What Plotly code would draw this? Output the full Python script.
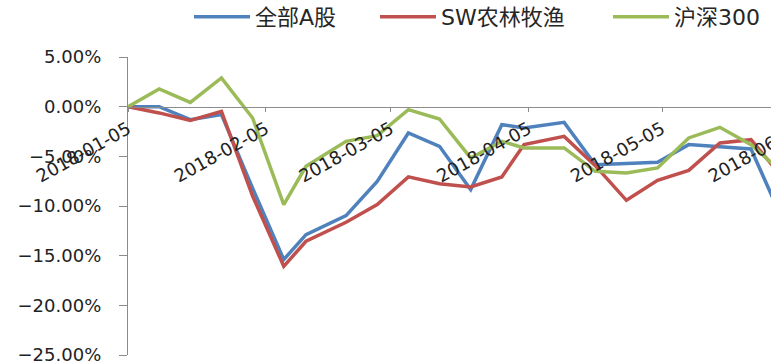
import numpy as np
import plotly.graph_objects as go

# Weekly closing dates
dates = ["2018-01-05", "2018-01-12", "2018-01-19", "2018-01-26", "2018-02-02",
         "2018-02-09", "2018-02-14", "2018-02-23", "2018-03-02", "2018-03-09",
         "2018-03-16", "2018-03-23", "2018-03-30", "2018-04-04", "2018-04-13",
         "2018-04-20", "2018-04-27", "2018-05-04", "2018-05-11", "2018-05-18",
         "2018-05-25", "2018-06-01"]

# Cumulative returns since 2018-01-05, in percent
all_a_shares = [0.00, 0.00, -1.31, -0.80, -8.20, -15.39, -12.88, -10.97, -7.52, -2.65,
                -3.99, -8.35, -1.81, -2.14, -1.58, -5.84, -5.73, -5.60, -3.82, -4.05,
                -4.26, -11.30]
sw_agri = [0.00, -0.63, -1.38, -0.47, -9.00, -16.07, -13.55, -11.64, -9.86, -7.07,
           -7.75, -8.08, -7.07, -3.82, -2.99, -5.94, -9.43, -7.41, -6.41, -3.65,
           -3.32, -7.10]
csi300 = [0.00, 1.78, 0.43, 2.89, -1.14, -9.86, -6.00, -3.49, -2.92, -0.30,
          -1.24, -5.16, -3.49, -4.15, -4.15, -6.51, -6.67, -6.17, -3.15, -2.08,
          -3.82, -6.60]

series_names = ["全部A股", "SW农林牧渔", "沪深300"]
series_values = [all_a_shares, sw_agri, csi300]
series_colors = ["#4F81BD", "#C0504D", "#9BBB59"]
legend_ids = ["legend", "legend2", "legend3"]
legend_left = [189, 375, 608]

W, H = 840, 363
LEFT, RIGHT, TOP, BOTTOM = 128, 20, 57, 8

fig = go.Figure()
for name, vals, color, lg in zip(series_names, series_values, series_colors, legend_ids):
    fig.add_trace(go.Scatter(
        x=dates, y=np.array(vals) / 100.0, name=name, mode="lines",
        line=dict(color=color, width=3.5), legend=lg,
    ))

axis_gray = "#8C8C8C"
tick_font = dict(family="DejaVu Sans", size=18, color="#222222")
legend_font = dict(family="DejaVu Sans, Noto Sans CJK SC", size=22, color="#262626")

legend_common = dict(orientation="h", xref="container", yref="container",
                     yanchor="middle", y=1 - 17 / H, xanchor="left",
                     font=legend_font, itemwidth=56, bgcolor="rgba(0,0,0,0)",
                     borderwidth=0)

fig.update_layout(
    width=W, height=H,
    margin=dict(l=LEFT, r=RIGHT, t=TOP, b=BOTTOM, pad=0, autoexpand=False),
    paper_bgcolor="white", plot_bgcolor="white",
    showlegend=True,
    **{lg: dict(x=xl / W, **legend_common) for lg, xl in zip(legend_ids, legend_left)},
    xaxis=dict(
        type="date", range=["2018-01-05", "2018-06-09 12:00"],
        anchor="free", position=25 / 30, automargin=False,
        tick0="2018-01-05", dtick="M1", tickformat="%Y-%m-%d",
        tickangle=-29, tickfont=tick_font,
        showline=True, linecolor=axis_gray, linewidth=1.3,
        ticks="outside", ticklen=4, tickcolor=axis_gray, tickwidth=1.3,
        showgrid=False, zeroline=False, ticklabeloverflow="allow",
    ),
    yaxis=dict(
        range=[-0.25, 0.05], dtick=0.05, tick0=0, tickformat=".2%",
        tickfont=tick_font, automargin=False,
        showline=True, linecolor=axis_gray, linewidth=1.3,
        ticks="outside", ticklen=8, tickcolor=axis_gray, tickwidth=1.3,
        ticklabelstandoff=14, ticklabeloverflow="allow",
        showgrid=False, zeroline=False,
    ),
)

fig.write_html(
    "out.html",
    post_script="document.documentElement.style.overflow='hidden';"
                "document.body.style.overflow='hidden';",
)
